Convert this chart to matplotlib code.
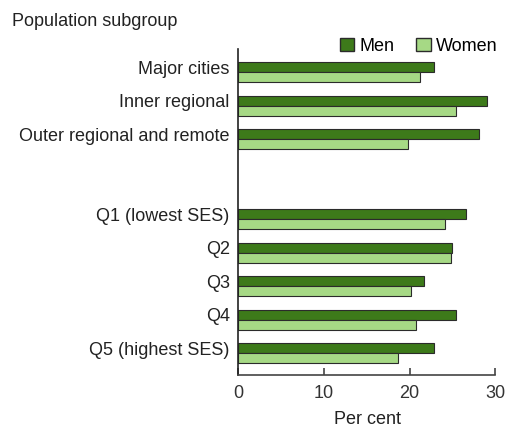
import matplotlib
matplotlib.use('Agg')
import matplotlib.pyplot as plt
import numpy as np
from matplotlib.patches import Patch

# data
groups = ['Major cities', 'Inner regional', 'Outer regional and remote',
          'Q1 (lowest SES)', 'Q2', 'Q3', 'Q4', 'Q5 (highest SES)']
men = [22.8, 29.0, 28.1, 26.6, 24.9, 21.7, 25.4, 22.9]
women = [21.2, 25.4, 19.8, 24.1, 24.8, 20.2, 20.7, 18.7]

plt.rcParams['font.family'] = ['Liberation Sans', 'DejaVu Sans']
c_men = '#3d7a1a'
c_women = '#a6d985'
edge = '#2b2b2b'
fs = 13

fig = plt.figure(figsize=(5.07, 4.32), dpi=100)
ax = fig.add_axes([238/507, 1-375/432, (497-238)/507, (375-49)/432])

# positions: gap between the area block and the SES block
pos = np.array([0, 1, 2, 4.39, 5.39, 6.39, 7.39, 8.39])
h = 0.30
ax.barh(pos - h/2, men, height=h, color=c_men, edgecolor=edge, linewidth=0.8)
ax.barh(pos + h/2, women, height=h, color=c_women, edgecolor=edge, linewidth=0.8)

ax.set_ylim(9.04, -0.69)
ax.set_xlim(0, 30.2)
ax.set_yticks(pos - h/2)
ax.set_yticklabels(groups, fontsize=fs, color='#222222')
ax.tick_params(axis='y', length=0, pad=6)
ax.set_xticks([0, 10, 20, 30])
ax.tick_params(axis='x', labelsize=fs, colors='#444444', length=5, direction='in', width=1.2, pad=7)
for t in ax.get_xticklabels():
    t.set_color('#333333')
ax.spines['top'].set_visible(False)
ax.spines['right'].set_visible(False)
ax.spines['left'].set_color('#222222')
ax.spines['bottom'].set_color('#444444')
ax.spines['left'].set_linewidth(1.2)
ax.spines['bottom'].set_linewidth(1.2)
ax.spines['bottom'].set_bounds(0, 30)
ax.set_xlabel('Per cent', fontsize=fs, color='#222222', labelpad=7)

fig.text(12/507, 1-21/432, 'Population subgroup', fontsize=fs, color='#222222', va='center')

handles = [Patch(facecolor=c_men, edgecolor=edge, label='Men'),
           Patch(facecolor=c_women, edgecolor=edge, label='Women')]
ax.legend(handles=handles, ncol=2, frameon=False, fontsize=fs,
          loc='lower right', bbox_to_anchor=(1.03, 0.96),
          handlelength=0.8, handleheight=0.8, handletextpad=0.3, columnspacing=1.2,
          borderaxespad=0)

fig.savefig('out.png', dpi=100)
